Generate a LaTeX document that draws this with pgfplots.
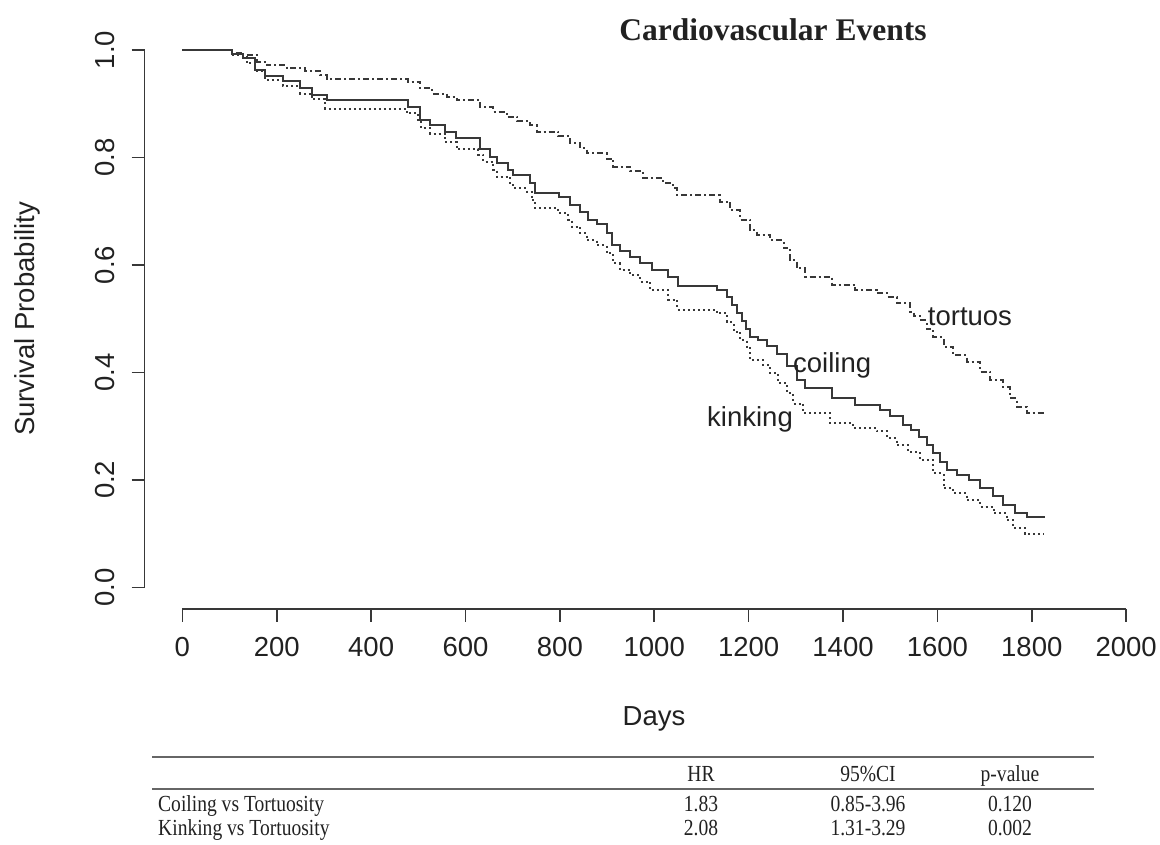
\documentclass[border=0pt]{standalone}
\usepackage{fontspec}
\setmainfont{Liberation Sans}
\newfontfamily\serifb{Liberation Serif}
\newfontfamily\tabfont[FakeStretch=0.85]{Liberation Serif}
\usepackage{pgfplots}
\pgfplotsset{compat=1.18}
\definecolor{ln}{gray}{0.22}
\definecolor{tx}{gray}{0.13}
\newcommand{\bigf}{\fontsize{27.5}{33}\selectfont}
\begin{document}
\begin{tikzpicture}
\begin{axis}[
  at={(144.6pt,235.2pt)}, anchor=south west,
  scale only axis, width=1019.3pt, height=580.3pt,
  xmin=-80, xmax=2080, ymin=-0.04, ymax=1.04,
  clip=false,
  axis x line*=bottom, axis y line*=left,
  axis line style={draw=none},
  xtick={0,200,...,2000}, ytick={0,0.2,0.4,0.6,0.8,1.0},
  minor tick num=0,
  tick align=outside, major tick length=13pt,
  tick style={line width=1.6pt, color=ln},
  scaled ticks=false,
  /pgf/number format/assume math mode=true,
  /pgf/number format/1000 sep={},
  tick label style={font=\bigf, text=tx},
  xticklabel style={inner sep=0pt, anchor=north},
  xticklabel shift=15pt,
  yticklabel style={rotate=90, anchor=south, inner sep=0pt,
    /pgf/number format/fixed, /pgf/number format/precision=1,
    /pgf/number format/fixed zerofill},
  yticklabel shift=17pt,
]
% coiling (solid)
\addplot[const plot, line width=2pt, color=ln] coordinates {
(0,1.000) (105,0.992) (129,0.985) (154,0.963) (175,0.952) (214,0.942)
(249,0.929) (274,0.916) (306,0.906) (479,0.894) (504,0.870) (525,0.860)
(557,0.848) (580,0.836) (631,0.815) (652,0.801) (666,0.790) (691,0.777)
(701,0.767) (737,0.752) (747,0.734) (799,0.726) (822,0.711) (843,0.699)
(860,0.684) (878,0.677) (899,0.659) (910,0.637) (927,0.625) (949,0.615)
(970,0.603) (995,0.591) (1030,0.578) (1051,0.561) (1132,0.553) (1154,0.540)
(1165,0.525) (1175,0.510) (1185,0.495) (1195,0.480) (1203,0.466) (1220,0.460)
(1238,0.450) (1260,0.435) (1281,0.411) (1302,0.386) (1320,0.370) (1376,0.352)
(1426,0.339) (1478,0.330) (1500,0.318) (1528,0.302) (1545,0.292) (1560,0.280)
(1577,0.265) (1590,0.250) (1605,0.234) (1620,0.218) (1641,0.209) (1666,0.200)
(1690,0.184) (1718,0.169) (1740,0.153) (1764,0.138) (1789,0.130) (1828,0.130)
};
% kinking (dotted)
\addplot[const plot, line width=2pt, color=ln, dash pattern=on 2pt off 3pt] coordinates {
(0,1.000) (105,0.990) (136,0.975) (154,0.960) (175,0.944) (214,0.933)
(249,0.919) (274,0.908) (302,0.891) (475,0.882) (500,0.870) (506,0.854)
(525,0.844) (557,0.829) (581,0.815) (627,0.805) (638,0.792) (659,0.777)
(666,0.764) (694,0.752) (701,0.743) (730,0.736) (740,0.721) (747,0.705)
(797,0.696) (818,0.684) (825,0.671) (843,0.659) (857,0.646) (878,0.637)
(899,0.622) (913,0.603) (927,0.591) (949,0.581) (970,0.569) (991,0.553)
(1030,0.535) (1048,0.517) (1132,0.510) (1154,0.494) (1168,0.476) (1182,0.460)
(1196,0.445) (1203,0.423) (1231,0.414) (1245,0.398) (1263,0.380) (1281,0.361)
(1295,0.342) (1316,0.324) (1373,0.305) (1422,0.296) (1471,0.290) (1493,0.277)
(1514,0.265) (1538,0.252) (1563,0.237) (1591,0.212) (1613,0.184) (1634,0.175)
(1662,0.162) (1690,0.150) (1719,0.138) (1747,0.125) (1761,0.110) (1786,0.099)
(1825,0.099)
};
% tortuos (dot-dash)
\addplot[const plot, line width=2pt, color=ln, dash pattern=on 6pt off 3pt on 2pt off 3pt] coordinates {
(0,1.000) (105,0.995) (129,0.990) (158,0.978) (179,0.972) (221,0.966)
(260,0.960) (292,0.953) (306,0.946) (479,0.941) (504,0.929) (530,0.919)
(560,0.913) (581,0.906) (631,0.894) (659,0.885) (687,0.876) (709,0.867)
(737,0.860) (751,0.848) (797,0.839) (822,0.827) (843,0.817) (857,0.808)
(899,0.798) (913,0.783) (949,0.774) (977,0.761) (1019,0.752) (1040,0.743)
(1048,0.730) (1139,0.718) (1161,0.702) (1182,0.684) (1203,0.665) (1217,0.656)
(1245,0.646) (1274,0.631) (1288,0.609) (1302,0.594) (1320,0.578) (1376,0.563)
(1426,0.553) (1471,0.547) (1493,0.541) (1514,0.529) (1542,0.513) (1550,0.504)
(1563,0.497) (1577,0.480) (1591,0.466) (1613,0.448) (1634,0.432) (1662,0.420)
(1690,0.401) (1712,0.386) (1740,0.373) (1754,0.352) (1768,0.336) (1789,0.325)
(1825,0.325)
};
% R-style axis lines
\draw[line width=1.6pt, ln] (axis cs:0,-0.04) -- (axis cs:2000,-0.04);
\draw[line width=1.6pt, ln] (axis cs:-80,0) -- (axis cs:-80,1);
% curve labels
\node[font=\bigf, text=tx, anchor=base] at (axis cs:1669,0.488) {tortuos};
\node[font=\bigf, text=tx, anchor=base] at (axis cs:1377,0.400) {coiling};
\node[font=\bigf, text=tx, anchor=base] at (axis cs:1203,0.299) {kinking};
\end{axis}
% title and axis labels
\node[anchor=base, text=tx, font={\serifb\bfseries\fontsize{31.5}{36}\selectfont}] at (773pt,803pt) {Cardiovascular Events};
\node[anchor=base, text=tx, font=\bigf] at (654pt,118pt) {Days};
\node[anchor=base, text=tx, font=\bigf, rotate=90] at (34pt,525pt) {Survival Probability};
% table
\draw[line width=1.8pt, black!60] (152pt,87pt) -- (1094pt,87pt);
\draw[line width=1.8pt, black!60] (152pt,55pt) -- (1094pt,55pt);
\begin{scope}[every node/.style={font={\tabfont\fontsize{23}{27}\selectfont}, text=tx, inner sep=0pt}]
\node[anchor=base] at (701pt,63pt) {HR};
\node[anchor=base] at (868pt,63pt) {95\%CI};
\node[anchor=base] at (1010pt,63pt) {p-value};
\node[anchor=base west] at (158pt,33pt) {Coiling vs Tortuosity};
\node[anchor=base] at (701pt,33pt) {1.83};
\node[anchor=base] at (868pt,33pt) {0.85-3.96};
\node[anchor=base] at (1010pt,33pt) {0.120};
\node[anchor=base west] at (158pt,9pt) {Kinking vs Tortuosity};
\node[anchor=base] at (701pt,9pt) {2.08};
\node[anchor=base] at (868pt,9pt) {1.31-3.29};
\node[anchor=base] at (1010pt,9pt) {0.002};
\end{scope}
\pgfresetboundingbox
\useasboundingbox (0pt,0pt) rectangle (1160pt,844pt);
\end{tikzpicture}
\end{document}
